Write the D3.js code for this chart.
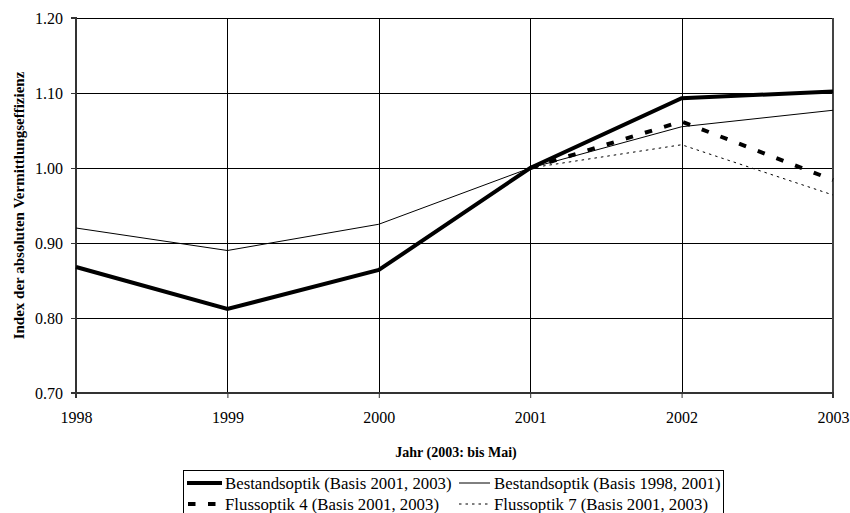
<!DOCTYPE html>
<html>
<head>
<meta charset="utf-8">
<script src="https://cdn.jsdelivr.net/npm/d3@7"></script>
<style>
  body { margin: 0; background: #fff; }
  svg { display: block; font-family: "Liberation Serif", "Times New Roman", serif; }
</style>
</head>
<body>
<svg id="chart" width="850" height="513"></svg>
<script>
// Years on the horizontal axis
const years = [1998, 1999, 2000, 2001, 2002, 2003];
const yTicks = [0.70, 0.80, 0.90, 1.00, 1.10, 1.20];

// Index series
const bestand0103 = [0.868, 0.812, 0.864, 1.000, 1.093, 1.102];
const bestand9801 = [0.920, 0.890, 0.925, 1.000, 1.055, 1.077];
const fluss4Years = [2001, 2002, 2003];
const fluss4 = [1.000, 1.062, 0.984];
const fluss7Years = [2001, 2002, 2003];
const fluss7 = [1.000, 1.031, 0.964];

const series = [
  { name: "Bestandsoptik (Basis 2001, 2003)", x: years, y: bestand0103, width: 4, dash: null },
  { name: "Bestandsoptik (Basis 1998, 2001)", x: years, y: bestand9801, width: 1, dash: null },
  { name: "Flussoptik 4 (Basis 2001, 2003)", x: fluss4Years, y: fluss4, width: 4, dash: "7.5,12.5" },
  { name: "Flussoptik 7 (Basis 2001, 2003)", x: fluss7Years, y: fluss7, width: 1, dash: "2.5,4" }
];

const svg = d3.select("#chart");
const plotL = 76, plotR = 833, plotT = 18, plotB = 393;

const x = d3.scaleLinear().domain([1998, 2003]).range([plotL, plotR]);
const y = d3.scaleLinear().domain([0.70, 1.20]).range([plotB, plotT]);

// Grid
const grid = svg.append("g");
grid.selectAll("line.h").data(yTicks.slice(1)).join("line")
  .attr("x1", plotL).attr("x2", plotR)
  .attr("y1", d => Math.round(y(d)) + 0.5).attr("y2", d => Math.round(y(d)) + 0.5)
  .attr("stroke", "#000").attr("stroke-width", 1);
grid.selectAll("line.v").data(years.slice(1, -1)).join("line")
  .attr("x1", d => Math.round(x(d)) + 0.5).attr("x2", d => Math.round(x(d)) + 0.5)
  .attr("y1", plotT).attr("y2", plotB)
  .attr("stroke", "#000").attr("stroke-width", 1);

// Right frame edge
svg.append("line").attr("x1", plotR).attr("x2", plotR).attr("y1", plotT).attr("y2", plotB)
  .attr("stroke", "#444").attr("stroke-width", 2);

// Axes
const yAxis = svg.append("g").attr("transform", `translate(${plotL},0)`)
  .call(d3.axisLeft(y).tickValues(yTicks).tickFormat(d3.format(".2f")).tickSize(5).tickPadding(8));
const xAxis = svg.append("g").attr("transform", `translate(0,${plotB})`)
  .call(d3.axisBottom(x).tickValues(years).tickFormat(d3.format("d")).tickSize(5).tickPadding(14));
[yAxis, xAxis].forEach(a => {
  a.attr("font-family", null).attr("font-size", null);
  a.select(".domain").attr("stroke", "#333").attr("stroke-width", 2);
  a.selectAll(".tick line").attr("stroke", "#333").attr("stroke-width", 1);
  a.selectAll(".tick text").attr("font-size", 16).attr("fill", "#000");
});
yAxis.select(".domain").attr("d", `M-5,${plotB}H0V${plotT}H-5`);
xAxis.select(".domain").attr("d", `M${plotL},5V0H${plotR}V5`);

// Series lines
const line = d3.line().x(d => x(d[0])).y(d => y(d[1]));
svg.append("g").selectAll("path").data(series).join("path")
  .attr("d", s => line(s.x.map((v, i) => [v, s.y[i]])))
  .attr("fill", "none").attr("stroke", "#000")
  .attr("stroke-width", s => s.width)
  .attr("stroke-dasharray", s => s.dash)
  .attr("stroke-linejoin", "miter");

// Axis titles
svg.append("text").attr("x", 456).attr("y", 457)
  .attr("text-anchor", "middle").attr("font-weight", "bold").attr("font-size", 14)
  .text("Jahr (2003: bis Mai)");
svg.append("text").attr("transform", `translate(24,${(plotT + plotB) / 2}) rotate(-90)`)
  .attr("text-anchor", "middle").attr("font-weight", "bold").attr("font-size", 15)
  .text("Index der absoluten Vermittlungseffizienz");

// Legend
const lg = svg.append("g");
lg.append("rect").attr("x", 183.5).attr("y", 470.5).attr("width", 540).attr("height", 50)
  .attr("fill", "#fff").attr("stroke", "#000").attr("stroke-width", 1);
const legendPos = [
  { lx1: 187, lx2: 222, tx: 225, ty: 489 },
  { lx1: 459, lx2: 490, tx: 494, ty: 489 },
  { lx1: 188, lx2: 218, tx: 225, ty: 510 },
  { lx1: 459, lx2: 490, tx: 494, ty: 510 }
];
series.forEach((s, i) => {
  const p = legendPos[i];
  lg.append("line").attr("x1", p.lx1).attr("x2", p.lx2).attr("y1", p.ty - 6).attr("y2", p.ty - 6)
    .attr("stroke", "#000").attr("stroke-width", s.width).attr("stroke-dasharray", s.dash);
  lg.append("text").attr("x", p.tx).attr("y", p.ty).attr("font-size", 16.8).text(s.name);
});
</script>
</body>
</html>
